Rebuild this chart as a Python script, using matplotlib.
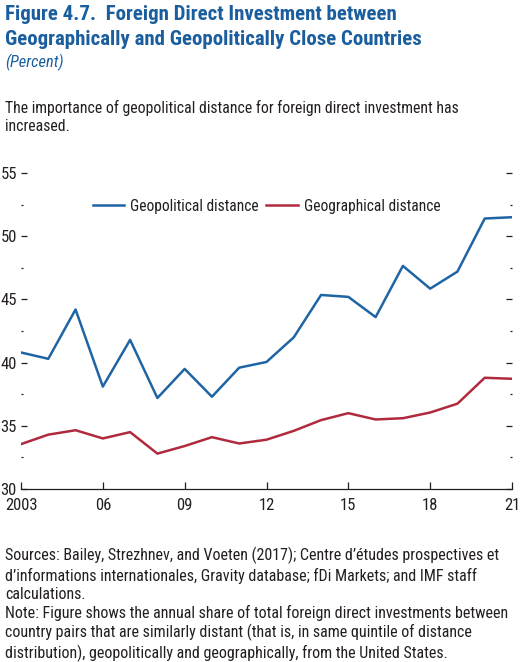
import matplotlib
matplotlib.use("Agg")
import matplotlib.pyplot as plt
from matplotlib import font_manager as fm
from matplotlib.ticker import FixedLocator

years = list(range(2003, 2022))
geopolitical = [40.8, 40.3, 44.2, 38.1, 41.8, 37.2, 39.5, 37.3, 39.6, 40.05,
                42.0, 45.35, 45.2, 43.6, 47.65, 45.85, 47.2, 51.4, 51.5]
geographical = [33.55, 34.3, 34.65, 34.0, 34.5, 32.8, 33.4, 34.1, 33.6, 33.9,
                34.6, 35.45, 36.0, 35.5, 35.6, 36.05, 36.75, 38.8, 38.72]
xtick_vals = [2003, 2006, 2009, 2012, 2015, 2018, 2021]
xtick_labels = ["2003", "06", "09", "12", "15", "18", "21"]
ytick_vals = [30, 35, 40, 45, 50, 55]
ytick_minor = [32.5, 37.5, 42.5, 47.5, 52.5]

font = "DejaVu Sans"
for cand in ["Liberation Sans Narrow", "DejaVu Sans Condensed", "Roboto Condensed", "Liberation Sans"]:
    try:
        fm.findfont(fm.FontProperties(family=cand), fallback_to_default=False)
        font = cand
        break
    except Exception:
        pass
plt.rcParams['font.family'] = [font, 'DejaVu Sans']

BLUE = "#1f64a3"
RED = "#b02a3e"
TITLE = "#1b5e9e"
TXT = "#231f20"

fig = plt.figure(figsize=(5.29, 6.62), dpi=100)
W, H = 529, 662
ax = fig.add_axes([21 / W, 1 - 489 / H, (512 - 21) / W, (489 - 173) / H])

ax.plot(years, geopolitical, color=BLUE, lw=1.8, label="Geopolitical distance")
ax.plot(years, geographical, color=RED, lw=1.8, label="Geographical distance")

ax.set_xlim(2003, 2021)
ax.set_ylim(30, 55)
for s in ["top", "left", "right"]:
    ax.spines[s].set_visible(False)
ax.spines["bottom"].set_color(TXT)
ax.spines["bottom"].set_linewidth(0.9)

ax.set_xticks(xtick_vals)
ax.set_xticklabels(xtick_labels)
ax.set_yticks(ytick_vals)
ax.yaxis.set_minor_locator(FixedLocator(ytick_minor))
ax.tick_params(axis="x", direction="in", length=5, width=0.9, color=TXT,
               labelsize=12, labelcolor=TXT, pad=6.5)
ax.tick_params(axis="y", which="major", direction="in", length=4.3, width=0.9,
               color=TXT, labelsize=12, labelcolor=TXT, pad=3, right=True)
ax.tick_params(axis="y", which="minor", direction="in", length=1.3, width=0.9,
               color=TXT, right=True)

leg = ax.legend(loc="center", bbox_to_anchor=(0.5, 1 - (206 - 173) / (489 - 173)), ncol=2,
                frameon=False, fontsize=11.2, handlelength=2.0, handletextpad=0.4,
                columnspacing=0.5, labelcolor=TXT)

fig.text(5 / W, 1 - 20 / H, "Figure 4.7.  Foreign Direct Investment between",
         fontsize=15, fontweight="bold", color=TITLE, va="baseline")
fig.text(5 / W, 1 - 45 / H, "Geographically and Geopolitically Close Countries",
         fontsize=15, fontweight="bold", color=TITLE, va="baseline")
fig.text(5 / W, 1 - 67 / H, "(Percent)", fontsize=11.8, style="italic",
         color=TITLE, va="baseline")
fig.text(5 / W, 1 - 100 / H,
         "The importance of geopolitical distance for foreign direct investment has\nincreased.",
         fontsize=11.35, color=TXT, va="top", linespacing=1.25)
fig.text(5 / W, 1 - 547 / H,
         "Sources: Bailey, Strezhnev, and Voeten (2017); Centre d\u2019\u00e9tudes prospectives et\n"
         "d\u2019informations internationales, Gravity database; fDi Markets; and IMF staff\n"
         "calculations.\n"
         "Note: Figure shows the annual share of total foreign direct investments between\n"
         "country pairs that are similarly distant (that is, in same quintile of distance\n"
         "distribution), geopolitically and geographically, from the United States.",
         fontsize=11.5, color=TXT, va="top", linespacing=1.25)

fig.savefig("out.png", dpi=100, facecolor="white")
